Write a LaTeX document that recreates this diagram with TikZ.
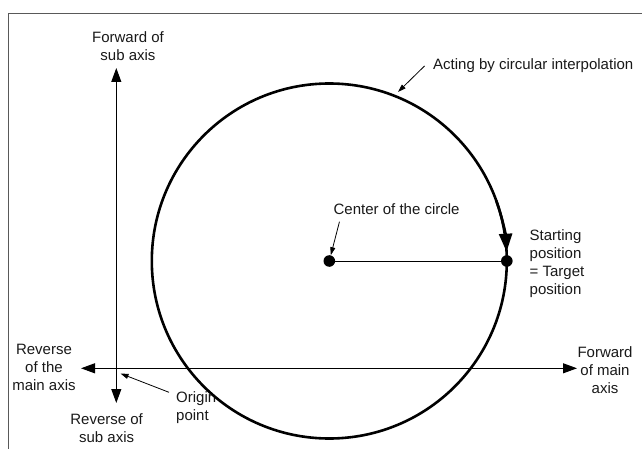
\documentclass[tikz,border=0pt]{standalone}
\usepackage{fontspec}
\setmainfont{Liberation Sans}
\usetikzlibrary{arrows.meta,calc}
\begin{document}
\begin{tikzpicture}[x=1pt,y=-1pt,
  lbl/.style={inner sep=0pt, font=\fontsize{15}{18}\selectfont, align=center, text=black!90},
  axisline/.style={line width=1pt, {Triangle[length=14pt,width=10pt]}-{Triangle[length=14pt,width=10pt]}},
  leader/.style={line width=0.8pt, -{Triangle[length=8pt,width=5pt]}},
  dot/.style={circle, fill=black, inner sep=0pt, minimum size=11.6pt},
  framestyle/.style={draw=black!65, line width=1.5pt},
  bigcircle/.style={line width=2.6pt}]
\useasboundingbox (0,0) rectangle (642,449);
% frame (cropped)
\coordinate (fbl) at (8.5,449);
\coordinate (ftl) at (8.5,13.5);
\coordinate (ftr) at (642,13.5);
\draw[framestyle] (fbl) -- (ftl) -- (ftr);
% label partly hidden by the circle
\node[lbl, anchor=west, align=left] (orig) at (176,407.5) {Origin\\point};
% circle
\coordinate (c) at (329.3,261);
\draw[bigcircle, fill=white] (c) circle[radius=177.5pt];
% axes
\coordinate (vtop) at (116.3,68);
\coordinate (vbot) at (116.3,403);
\coordinate (hl) at (81,368.3);
\coordinate (hr) at (577,368.3);
\draw[axisline] (vbot) -- (vtop);
\draw[axisline] (hl) -- (hr);
% center and start points
\node[dot] (cdot) at (c) {};
\node[dot] (sdot) at (506.8,261) {};
\draw[line width=1pt] (cdot) -- (sdot);
% direction arrow on circle
\draw[bigcircle, -{Triangle[length=18pt,width=13pt]}] (c) ++(20:177.5pt) arc[start angle=20,end angle=3,radius=177.5pt];
% labels
\node[lbl] (fsub) at (128,46) {Forward of\\sub axis};
\node[lbl, anchor=west] (act) at (433,66) {Acting by circular interpolation};
\node[lbl] (ctr) at (396.6,209) {Center of the circle};
\node[lbl, anchor=west, align=left] (start) at (529.5,264) {Starting\\position\\= Target\\position};
\node[lbl] (fmain) at (605,370) {Forward\\of main\\axis};
\node[lbl] (rmain) at (44,367.5) {Reverse\\of the\\main axis};
\node[lbl] (rsub) at (106.6,428.5) {Reverse of\\sub axis};
% leader arrows
\coordinate (actS) at ($(act.west)+(-8.5,0)$);
\coordinate (actT) at (398,92);
\draw[leader] (actS) -- (actT);
\coordinate (ctrS) at ($(ctr.south west)+(6,7)$);
\draw[leader] (ctrS) -- (cdot);
\coordinate (origS) at ($(orig.north west)+(-7,1)$);
\coordinate (origT) at (120.5,373.5);
\draw[leader] (origS) -- (origT);
\end{tikzpicture}
\end{document}
